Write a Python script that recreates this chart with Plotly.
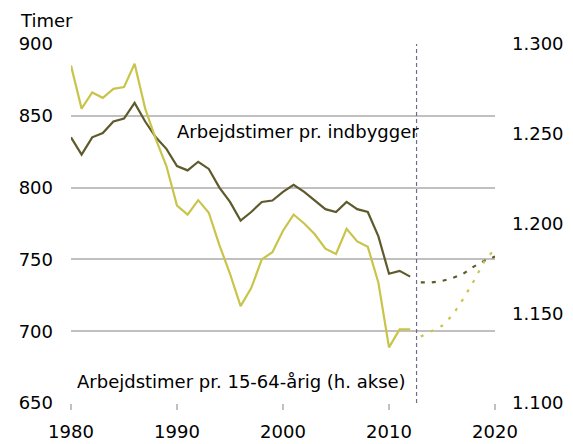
import plotly.graph_objects as go

# ---- data ----
years_hist = list(range(1980, 2013))
per_capita = [835, 823, 835, 838, 846, 848, 859, 846, 835, 827,
              815, 812, 818, 813, 800, 790, 777, 783, 790, 791,
              797, 802, 797, 791, 785, 783, 790, 785, 783, 766,
              740, 742, 738]
per_working_age = [1288, 1264, 1273, 1270, 1275, 1276, 1289, 1264, 1247, 1232,
                   1210, 1205, 1213, 1206, 1188, 1172, 1154, 1164, 1180, 1184,
                   1196, 1205, 1200, 1194, 1186, 1183, 1197, 1190, 1187, 1167,
                   1131, 1141, 1141]
years_fc = list(range(2013, 2021))
per_capita_fc = [734, 734, 735, 737, 740, 745, 749, 752]
per_working_age_fc = [1137, 1140, 1143, 1149, 1158, 1168, 1179, 1186]
split_year = 2012.6

left_ticks = [650, 700, 750, 800, 850, 900]
right_ticks = [1100, 1150, 1200, 1250, 1300]
x_ticks = [1980, 1990, 2000, 2010, 2020]

dark = "#5e5a2c"
light = "#c9c44a"
font = "DejaVu Sans"

fig = go.Figure()
fig.add_trace(go.Scatter(x=years_hist, y=per_capita, mode="lines",
                         line=dict(color=dark, width=2.2), yaxis="y"))
fig.add_trace(go.Scatter(x=years_fc, y=per_capita_fc, mode="lines",
                         line=dict(color=dark, width=2.2, dash="4px,7px"), yaxis="y"))
fig.add_trace(go.Scatter(x=years_hist, y=per_working_age, mode="lines",
                         line=dict(color=light, width=2.2), yaxis="y2"))
fig.add_trace(go.Scatter(x=years_fc, y=per_working_age_fc, mode="lines",
                         line=dict(color=light, width=2.2, dash="3px,8px"), yaxis="y2"))

fig.add_shape(type="line", xref="x", yref="y", x0=split_year, x1=split_year,
              y0=left_ticks[0], y1=left_ticks[-1],
              line=dict(color="#6e6e8a", width=1.2, dash="4px,3px"))

fig.add_annotation(x=1989.85, y=839, xref="x", yref="y", text="Arbejdstimer pr. indbygger",
                   showarrow=False, xanchor="left", yanchor="middle",
                   font=dict(family=font, size=18, color="black"))
fig.add_annotation(x=1980.4, y=665, xref="x", yref="y", text="Arbejdstimer pr. 15-64-årig (h. akse)",
                   showarrow=False, xanchor="left", yanchor="middle",
                   font=dict(family=font, size=18, color="black"))
fig.add_annotation(x=-0.125, y=1.066, xref="paper", yref="paper", text="Timer",
                   showarrow=False, xanchor="left", yanchor="middle",
                   font=dict(family=font, size=18, color="black"))

fig.update_layout(
    width=565, height=436, autosize=False,
    margin=dict(l=62.5, r=78, t=36, b=41),
    paper_bgcolor="white", plot_bgcolor="white",
    showlegend=False, separators=",.",
    font=dict(family=font, size=18, color="black"),
    xaxis=dict(range=[1980, 2020], tickvals=x_ticks, showgrid=False,
               showline=False, zeroline=False, ticks="outside", ticklen=6,
               tickcolor="#c0c0c0", tickwidth=1.5, ticklabelstandoff=6,
               tickfont=dict(family=font, size=18, color="black"),
               automargin=False),
    yaxis=dict(range=[650, 900], tickvals=left_ticks, showgrid=True,
               gridcolor="#c0c0c0", gridwidth=1.5, zeroline=False, showline=False,
               ticks="", ticklabelstandoff=17, automargin=False,
               tickfont=dict(family=font, size=18, color="black")),
    yaxis2=dict(range=[1100, 1300], tickvals=right_ticks, tickformat=",d",
                overlaying="y", side="right", showgrid=False, zeroline=False,
                showline=False, ticks="", ticklabelstandoff=16, automargin=False,
                tickfont=dict(family=font, size=18, color="black")),
)

fig.write_html("out.html")
